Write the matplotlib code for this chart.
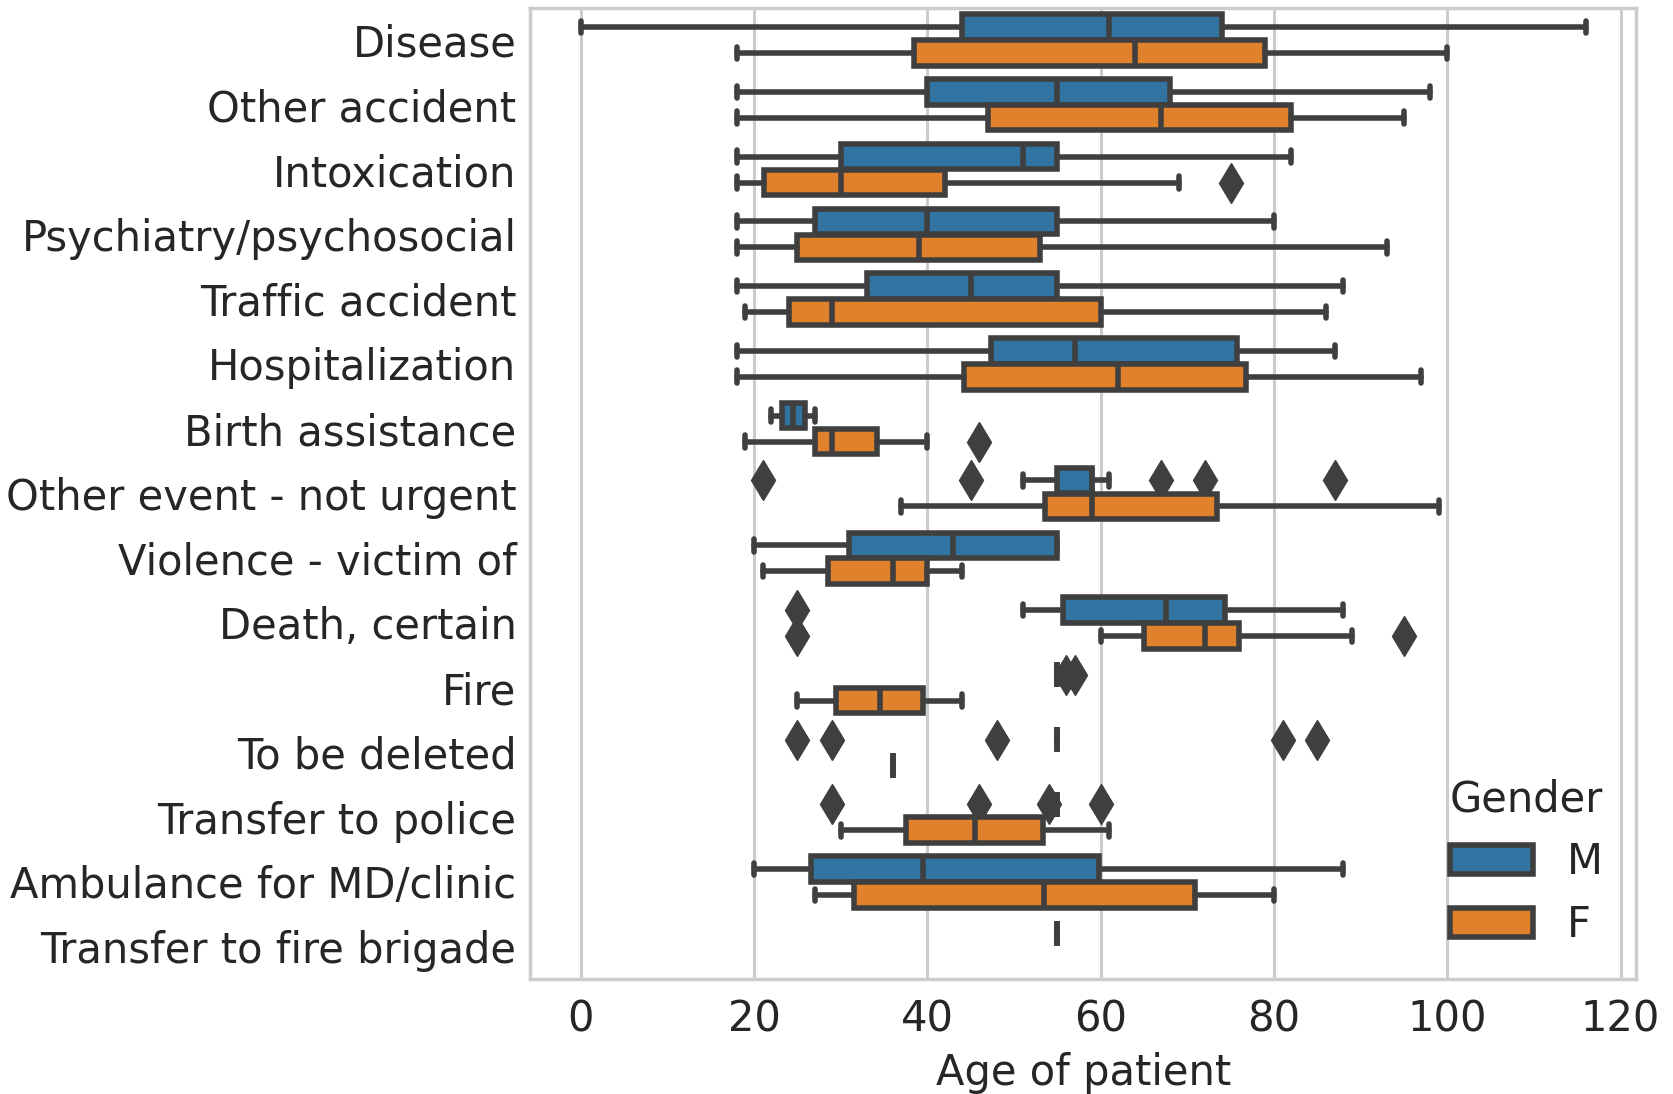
import matplotlib
matplotlib.use("Agg")
import matplotlib.pyplot as plt
from matplotlib.patches import Patch

plt.rcParams['font.family'] = ['DejaVu Sans']

categories = ["Disease", "Other accident", "Intoxication", "Psychiatry/psychosocial",
              "Traffic accident", "Hospitalization", "Birth assistance",
              "Other event - not urgent", "Violence - victim of", "Death, certain",
              "Fire", "To be deleted", "Transfer to police", "Ambulance for MD/clinic",
              "Transfer to fire brigade"]

# stats per category: (whislo, q1, med, q3, whishi, fliers) ; None = no data
male_stats = [
    (0, 44, 61, 74, 116, []),
    (18, 40, 55, 68, 98, []),
    (18, 30, 51, 55, 82, []),
    (18, 27, 40, 55, 80, []),
    (18, 33, 45, 55, 88, []),
    (18, 47.4, 57, 75.7, 87, []),
    (22, 23.2, 24.5, 25.9, 27, []),
    (51, 55, 59, 59, 61, [21, 45, 67, 72, 87]),
    (20, 31, 43, 55, 55, []),
    (51, 55.7, 67.5, 74.3, 88, [25]),
    (55, 55, 55, 55, 55, [56, 57]),
    (55, 55, 55, 55, 55, [25, 29, 48, 81, 85]),
    (55, 55, 55, 55, 55, [29, 46, 54, 60]),
    (20, 26.6, 39.5, 59.8, 88, []),
    (55, 55, 55, 55, 55, []),
]
female_stats = [
    (18, 38.5, 64, 79, 100, []),
    (18, 47, 67, 82, 95, []),
    (18, 21.2, 30, 42, 69, [75]),
    (18, 25, 39, 53, 93, []),
    (19, 24, 29, 60, 86, []),
    (18, 44.2, 62, 76.8, 97, []),
    (19, 27, 29, 34.2, 40, [46]),
    (37, 53.6, 59, 73.4, 99, []),
    (21, 28.5, 36, 40, 44, []),
    (60, 65, 72, 76, 89, [25, 95]),
    (25, 29.5, 34.5, 39.5, 44, []),
    (36, 36, 36, 36, 36, []),
    (30, 37.5, 45.5, 53.4, 61, []),
    (27, 31.6, 53.5, 70.9, 80, []),
    None,
]
genders = ["M", "F"]
colors = ["#3274a1", "#e1812c"]
gray = "#3f3f3f"

fig = plt.figure(figsize=(16.73, 10.94), dpi=100)
ax = fig.add_axes([0.317, 0.105, 0.661, 0.888])

lw = 4.0
fs = 30
width = 0.8 / 2 * 0.98

for g, (stats_list, col, off) in enumerate(zip([male_stats, female_stats], colors, [-0.2, 0.2])):
    stats = []
    pos = []
    for i, s in enumerate(stats_list):
        if s is None:
            continue
        stats.append(dict(whislo=s[0], q1=s[1], med=s[2], q3=s[3], whishi=s[4], fliers=s[5]))
        pos.append(i + off)
    ax.bxp(stats, positions=pos, widths=width, vert=False, patch_artist=True,
           showfliers=True, manage_ticks=False,
           boxprops=dict(facecolor=col, edgecolor=gray, linewidth=lw),
           medianprops=dict(color=gray, linewidth=lw),
           whiskerprops=dict(color=gray, linewidth=lw, solid_capstyle='round'),
           capprops=dict(color=gray, linewidth=lw, solid_capstyle='round'),
           flierprops=dict(marker='d', markerfacecolor=gray, markeredgecolor=gray,
                           markersize=20, markeredgewidth=1, linestyle='none'),
           zorder=2)

ax.set_yticks(range(len(categories)))
ax.set_yticklabels(categories, fontsize=fs, color="#262626")
ax.set_ylim(len(categories) - 0.5, -0.5)
ax.set_xlim(-5.8, 121.8)
ax.set_xticks([0, 20, 40, 60, 80, 100, 120])
ax.tick_params(axis='both', length=0, labelsize=fs, colors="#262626")
ax.tick_params(axis='y', pad=10)
ax.tick_params(axis='x', pad=14)
ax.set_xlabel("Age of patient", fontsize=fs, color="#262626", labelpad=8)
ax.xaxis.grid(True, color="#cccccc", linewidth=2.2, zorder=0)
ax.set_axisbelow(True)
for sp in ax.spines.values():
    sp.set_color("#cccccc")
    sp.set_linewidth(2.5)

handles = [Patch(facecolor=c, edgecolor=gray, linewidth=lw, label=g) for c, g in zip(colors, genders)]
leg = ax.legend(handles=handles, title="Gender", loc="lower right", fontsize=fs,
                title_fontsize=fs, frameon=False, borderaxespad=0.4)
for t in leg.get_texts():
    t.set_color("#262626")
leg.get_title().set_color("#262626")

fig.savefig("out.png", dpi=100)
